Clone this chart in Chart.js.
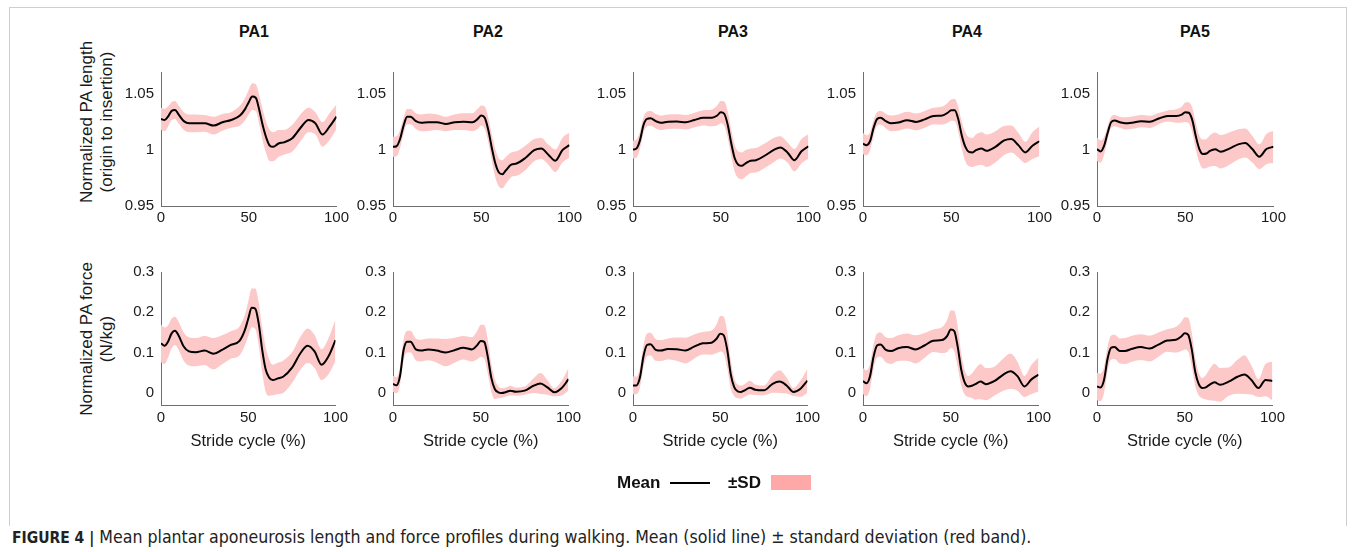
<!DOCTYPE html>
<html>
<head>
<meta charset="utf-8">
<script src="https://cdn.jsdelivr.net/npm/chart.js@4.4.1/dist/chart.umd.min.js"></script>
<style>
  body { margin: 0; background: #fff; font-family: "Liberation Sans", Arial, sans-serif; color: #111; }
  #page { position: relative; width: 1355px; height: 552px; overflow: hidden; }
  .frame { position: absolute; left: 9px; top: 7px; width: 1336px; height: 518px; border: 1px solid #cfcfcf; border-bottom: none; }
  .panel { position: absolute; }
  .ttl { position: absolute; top: 23px; font-weight: bold; font-size: 16px; transform: translateX(-50%); }
  .ylab { position: absolute; font-size: 17px; color: #1a1a1a; white-space: nowrap; line-height: 20px;
          transform: translate(-50%, -50%) rotate(-90deg); }
  .leg { position: absolute; font-weight: bold; font-size: 17px; top: 473px; }
  #caption { position: absolute; left: 12px; top: 527px; font-family: "DejaVu Sans Condensed", "Liberation Sans", sans-serif;
             font-size: 17.6px; white-space: nowrap; color: #222; }
  #caption b { font-size: 15.5px; }
</style>
</head>
<body>
<div id="page">
  <div class="frame"></div>
  <div id="titles"></div>
  <div class="ylab" style="left:87px;top:122px">Normalized PA length</div>
  <div class="ylab" style="left:107px;top:122px">(origin to insertion)</div>
  <div class="ylab" style="left:87px;top:339px">Normalized PA force</div>
  <div class="ylab" style="left:107px;top:339px">(N/kg)</div>
  <div id="panels"></div>
  <div class="leg" style="left:617px">Mean</div>
  <div style="position:absolute;left:670px;top:482px;width:40px;height:2px;background:#000"></div>
  <div class="leg" style="left:728px">±SD</div>
  <div style="position:absolute;left:771px;top:475px;width:40px;height:15px;background:#ffa8a8"></div>
  <div id="caption"><b>FIGURE 4 |</b> Mean plantar aponeurosis length and force profiles during walking. Mean (solid line) ± standard deviation (red band).</div>
</div>
<script>
// stride cycle sample points (%)
const stride = [0, 2, 4, 6, 8, 10, 13, 16, 20, 25, 30, 35, 40, 45, 48, 50, 52, 54, 56, 58, 60, 62, 64, 67, 70, 75, 80, 84, 88, 92, 96, 100];
const strideTicks = [0, 50, 100];
const lengthTicks = [0.95, 1, 1.05];
const forceTicks = [0, 0.1, 0.2, 0.3];
const panelNames = ["PA1", "PA2", "PA3", "PA4", "PA5"];

// normalized PA length, mean and SD
const pa1LenMean = [1.028, 1.027, 1.030, 1.035, 1.036, 1.032, 1.026, 1.024, 1.024, 1.024, 1.022, 1.025, 1.027, 1.031, 1.037, 1.043, 1.048, 1.047, 1.036, 1.022, 1.011, 1.004, 1.003, 1.006, 1.007, 1.011, 1.021, 1.027, 1.024, 1.014, 1.021, 1.030];
const pa1LenSd = [0.010, 0.010, 0.009, 0.008, 0.008, 0.008, 0.008, 0.008, 0.008, 0.0075, 0.008, 0.0075, 0.007, 0.009, 0.010, 0.011, 0.012, 0.012, 0.013, 0.014, 0.014, 0.014, 0.013, 0.012, 0.011, 0.012, 0.012, 0.011, 0.010, 0.011, 0.012, 0.011];
const pa2LenMean = [1.003, 1.0035, 1.010, 1.022, 1.030, 1.030, 1.026, 1.0245, 1.025, 1.025, 1.0235, 1.025, 1.0255, 1.025, 1.028, 1.031, 1.029, 1.018, 1.002, 0.988, 0.980, 0.9785, 0.982, 0.987, 0.988, 0.993, 1.000, 1.0015, 0.996, 0.9905, 1.000, 1.0045];
const pa2LenSd = [0.009, 0.009, 0.008, 0.007, 0.0068, 0.0068, 0.007, 0.0075, 0.0078, 0.007, 0.0065, 0.007, 0.0075, 0.008, 0.009, 0.009, 0.010, 0.011, 0.012, 0.0125, 0.0125, 0.0125, 0.012, 0.011, 0.011, 0.011, 0.010, 0.0095, 0.009, 0.010, 0.011, 0.011];
const pa3LenMean = [1.0006, 1.0015, 1.009, 1.0226, 1.028, 1.0285, 1.026, 1.0245, 1.0255, 1.0256, 1.025, 1.027, 1.029, 1.029, 1.031, 1.034, 1.0326, 1.0226, 1.006, 0.9925, 0.987, 0.986, 0.988, 0.9905, 0.991, 0.995, 1.000, 1.0025, 0.998, 0.991, 0.999, 1.0035];
const pa3LenSd = [0.008, 0.008, 0.0075, 0.007, 0.0066, 0.0066, 0.0065, 0.0065, 0.0065, 0.0065, 0.0065, 0.0065, 0.0068, 0.0075, 0.009, 0.010, 0.011, 0.012, 0.012, 0.012, 0.012, 0.012, 0.012, 0.011, 0.011, 0.011, 0.011, 0.010, 0.009, 0.010, 0.011, 0.011];
const pa4LenMean = [1.0058, 1.0044, 1.008, 1.020, 1.028, 1.029, 1.026, 1.024, 1.0247, 1.0268, 1.0253, 1.0276, 1.0306, 1.031, 1.0335, 1.0358, 1.0358, 1.0276, 1.013, 1.003, 0.9985, 0.998, 1.000, 1.0015, 0.9995, 1.003, 1.0087, 1.0100, 1.0045, 0.998, 1.004, 1.008];
const pa4LenSd = [0.0095, 0.009, 0.008, 0.007, 0.006, 0.006, 0.0065, 0.007, 0.0073, 0.0075, 0.0075, 0.0075, 0.0073, 0.008, 0.009, 0.0095, 0.010, 0.011, 0.012, 0.013, 0.013, 0.013, 0.014, 0.0145, 0.0145, 0.014, 0.013, 0.012, 0.011, 0.0095, 0.012, 0.0135];
const pa5LenMean = [1.0009, 0.9988, 1.0038, 1.0153, 1.025, 1.0265, 1.025, 1.024, 1.0246, 1.026, 1.0254, 1.0283, 1.0306, 1.0306, 1.0318, 1.034, 1.0335, 1.0269, 1.0124, 1.0009, 0.9965, 0.997, 0.9994, 1.0009, 0.9986, 1.0014, 1.0052, 1.0065, 1.001, 0.9942, 1.001, 1.003];
const pa5LenSd = [0.0105, 0.010, 0.008, 0.006, 0.005, 0.005, 0.005, 0.0055, 0.0055, 0.0055, 0.0055, 0.005, 0.005, 0.006, 0.007, 0.0087, 0.0095, 0.011, 0.012, 0.012, 0.013, 0.013, 0.014, 0.015, 0.015, 0.0145, 0.0135, 0.013, 0.012, 0.011, 0.0135, 0.0145];

// normalized PA force (N/kg), mean and SD
const pa1ForceMean = [0.123, 0.117, 0.127, 0.147, 0.154, 0.143, 0.115, 0.103, 0.101, 0.105, 0.097, 0.107, 0.119, 0.129, 0.155, 0.184, 0.211, 0.209, 0.172, 0.107, 0.058, 0.038, 0.032, 0.036, 0.040, 0.062, 0.099, 0.117, 0.103, 0.070, 0.091, 0.131];
const pa1ForceSd = [0.047, 0.045, 0.040, 0.037, 0.035, 0.035, 0.035, 0.035, 0.035, 0.036, 0.039, 0.036, 0.034, 0.036, 0.038, 0.043, 0.048, 0.050, 0.053, 0.055, 0.055, 0.045, 0.038, 0.039, 0.040, 0.038, 0.041, 0.043, 0.041, 0.038, 0.045, 0.052];
const pa2ForceMean = [0.022, 0.019, 0.042, 0.106, 0.127, 0.127, 0.108, 0.105, 0.108, 0.105, 0.100, 0.106, 0.112, 0.108, 0.1185, 0.129, 0.1266, 0.090, 0.038, 0.0097, 0.0016, 0.000, 0.0016, 0.0056, 0.003, 0.0056, 0.0177, 0.0234, 0.0137, 0.0016, 0.0113, 0.034];
const pa2ForceSd = [0.020, 0.020, 0.022, 0.026, 0.027, 0.027, 0.027, 0.027, 0.027, 0.030, 0.034, 0.031, 0.029, 0.030, 0.035, 0.040, 0.042, 0.042, 0.035, 0.025, 0.015, 0.012, 0.011, 0.012, 0.010, 0.010, 0.018, 0.026, 0.018, 0.010, 0.018, 0.028];
const pa3ForceMean = [0.0185, 0.0185, 0.0386, 0.091, 0.119, 0.121, 0.107, 0.105, 0.109, 0.1086, 0.105, 0.115, 0.123, 0.1247, 0.135, 0.147, 0.143, 0.107, 0.0467, 0.0145, 0.004, 0.0024, 0.0064, 0.0129, 0.008, 0.0064, 0.0225, 0.028, 0.0185, 0.0024, 0.0105, 0.0306];
const pa3ForceSd = [0.022, 0.022, 0.024, 0.027, 0.028, 0.028, 0.027, 0.026, 0.026, 0.029, 0.032, 0.030, 0.028, 0.030, 0.036, 0.044, 0.046, 0.045, 0.035, 0.022, 0.017, 0.016, 0.016, 0.017, 0.013, 0.012, 0.022, 0.028, 0.020, 0.010, 0.020, 0.030];
const pa4ForceMean = [0.0296, 0.024, 0.0416, 0.0896, 0.1176, 0.120, 0.107, 0.104, 0.111, 0.1136, 0.108, 0.1176, 0.1296, 0.131, 0.1416, 0.1576, 0.1536, 0.1136, 0.0576, 0.0256, 0.016, 0.0176, 0.0216, 0.028, 0.0216, 0.0296, 0.0456, 0.0536, 0.0416, 0.016, 0.0336, 0.0456];
const pa4ForceSd = [0.032, 0.032, 0.031, 0.030, 0.030, 0.030, 0.031, 0.032, 0.032, 0.034, 0.035, 0.031, 0.028, 0.032, 0.040, 0.047, 0.050, 0.050, 0.040, 0.030, 0.026, 0.030, 0.038, 0.044, 0.040, 0.036, 0.040, 0.044, 0.036, 0.026, 0.036, 0.042];
const pa5ForceMean = [0.016, 0.0136, 0.032, 0.084, 0.112, 0.114, 0.104, 0.104, 0.1096, 0.1136, 0.110, 0.120, 0.130, 0.132, 0.140, 0.148, 0.144, 0.108, 0.052, 0.0216, 0.012, 0.0136, 0.020, 0.0264, 0.020, 0.028, 0.040, 0.0456, 0.032, 0.012, 0.032, 0.0296];
const pa5ForceSd = [0.034, 0.034, 0.032, 0.030, 0.030, 0.030, 0.031, 0.032, 0.032, 0.032, 0.032, 0.030, 0.028, 0.032, 0.036, 0.040, 0.042, 0.042, 0.035, 0.028, 0.025, 0.030, 0.038, 0.046, 0.042, 0.035, 0.042, 0.048, 0.036, 0.022, 0.040, 0.048];

const lengthMeans = [pa1LenMean, pa2LenMean, pa3LenMean, pa4LenMean, pa5LenMean];
const lengthSds = [pa1LenSd, pa2LenSd, pa3LenSd, pa4LenSd, pa5LenSd];
const forceMeans = [pa1ForceMean, pa2ForceMean, pa3ForceMean, pa4ForceMean, pa5ForceMean];
const forceSds = [pa1ForceSd, pa2ForceSd, pa3ForceSd, pa4ForceSd, pa5ForceSd];

// layout (px)
const axisLeft = [161, 393, 633, 863, 1097];
const axisRight = [338, 571, 810, 1041, 1275];
const titleX = [254, 488, 733, 967, 1195];

const bandColor = "#fdc8c8";
const textColor = "#1a1a1a";
const axisColor = "#6e6e6e";
const font = "'Liberation Sans', Arial, sans-serif";

panelNames.forEach((name, i) => {
    const t = document.createElement("div");
    t.className = "ttl";
    t.style.left = titleX[i] + "px";
    t.textContent = name;
    document.getElementById("titles").appendChild(t);
});

function makePanel(col, row) {
    const top = row === 0 ? 56 : 256;
    const xH = row === 0 ? 26 : 50;
    const areaBottom = row === 0 ? 206 : 405;
    const left = axisLeft[col] - 60;
    const yW = 60;
    const padRight = 14;
    const w = axisRight[col] - left + padRight;
    const h = areaBottom - top + xH;

    const box = document.createElement("div");
    box.className = "panel";
    box.style.cssText = `left:${left}px;top:${top}px;width:${w}px;height:${h}px`;
    const cv = document.createElement("canvas");
    box.appendChild(cv);
    document.getElementById("panels").appendChild(box);

    const mean = row === 0 ? lengthMeans[col] : forceMeans[col];
    const sd = row === 0 ? lengthSds[col] : forceSds[col];
    const yTicks = row === 0 ? lengthTicks : forceTicks;
    const upper = stride.map((x, k) => ({ x: x, y: mean[k] + sd[k] }));
    const lower = stride.map((x, k) => ({ x: x, y: mean[k] - sd[k] }));
    const line = stride.map((x, k) => ({ x: x, y: mean[k] }));

    new Chart(cv, {
        type: "line",
        data: {
            datasets: [
                { data: upper, fill: "+1", backgroundColor: bandColor, borderWidth: 0, pointRadius: 0, cubicInterpolationMode: "monotone" },
                { data: lower, fill: false, borderWidth: 0, pointRadius: 0, cubicInterpolationMode: "monotone" },
                { data: line, fill: false, borderColor: "#000", borderWidth: 2, pointRadius: 0, cubicInterpolationMode: "monotone" },
            ],
        },
        options: {
            responsive: true,
            maintainAspectRatio: false,
            animation: false,
            events: [],
            layout: { padding: { left: 0, right: padRight, top: 12, bottom: 0 } },
            plugins: { legend: { display: false }, tooltip: { enabled: false }, filler: { drawTime: "beforeDatasetsDraw" } },
            scales: {
                x: {
                    type: "linear",
                    min: 0,
                    max: 100,
                    afterBuildTicks: (s) => { s.ticks = strideTicks.map((v) => ({ value: v })); },
                    afterFit: (s) => { s.height = xH; },
                    grid: { display: false, drawTicks: false },
                    border: { color: axisColor, width: 1 },
                    ticks: { color: textColor, font: { family: font, size: 15 }, padding: row === 0 ? 3 : 4, maxRotation: 0, callback: (v) => String(v) },
                    title: row === 1 ? { display: true, text: "Stride cycle (%)", color: textColor, font: { family: font, size: 16.5 }, padding: { top: 1 } } : { display: false },
                },
                y: {
                    min: row === 0 ? 0.95 : -0.03,
                    max: row === 0 ? 1.07 : 0.3,
                    afterBuildTicks: (s) => { s.ticks = yTicks.map((v) => ({ value: v })); },
                    afterFit: (s) => { s.width = yW; },
                    grid: { display: false, drawTicks: false },
                    border: { color: axisColor, width: 1 },
                    ticks: { color: textColor, font: { family: font, size: 15 }, padding: 7, callback: (v) => String(v) },
                },
            },
        },
    });
}

for (let r = 0; r < 2; r++) {
    for (let c = 0; c < 5; c++) makePanel(c, r);
}
</script>
</body>
</html>
